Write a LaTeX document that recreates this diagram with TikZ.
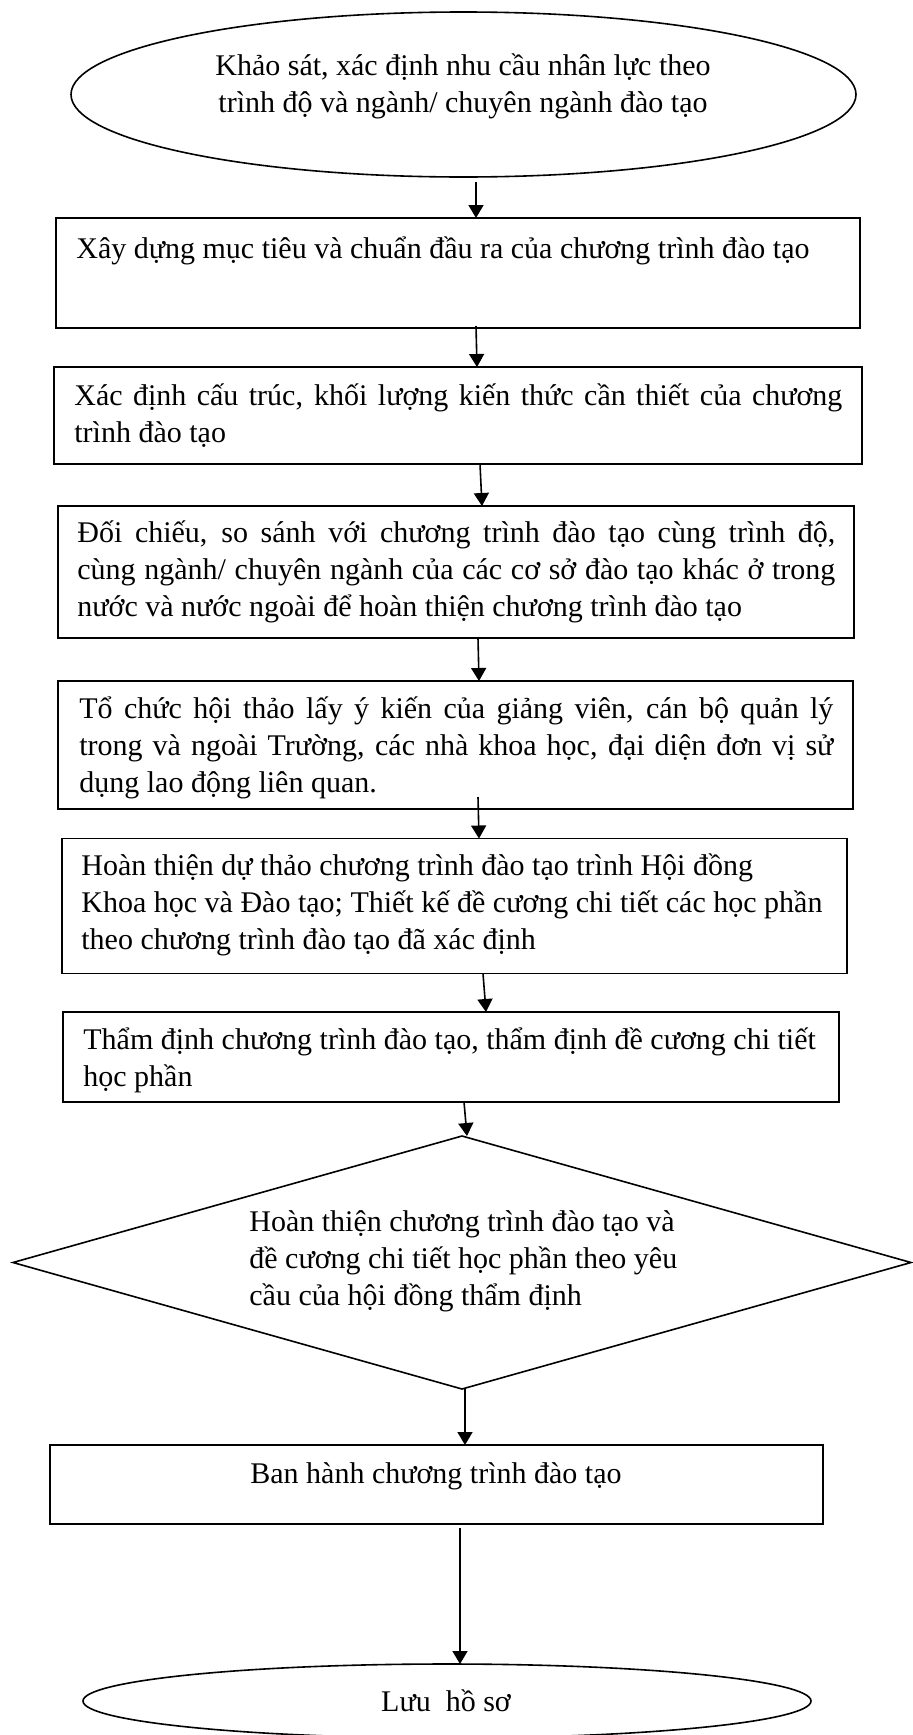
\documentclass[tikz,border=0pt]{standalone}
\usepackage{fontspec}
\setmainfont{Liberation Serif}
\usetikzlibrary{shapes.geometric,arrows.meta,calc}
\tikzset{
  shp/.style={draw, line width=0.8pt, inner sep=0pt, outer sep=0pt},
  boxnode/.style={shp, rectangle},
  ellnode/.style={shp, ellipse},
  dianode/.style={shp, diamond},
  txt/.style={inner sep=0pt, font=\fontsize{15}{18.5}\selectfont},
  arr/.style={-{Triangle[width=7.5pt,length=6.5pt]}, line width=0.8pt},
}
\begin{document}
\begin{tikzpicture}[x=0.5pt,y=-0.5pt]
\useasboundingbox (0,0) rectangle (912,1735);
% shapes
\node[ellnode, minimum width=392.5pt, minimum height=82.5pt] (e1) at (463.5,94.5) {};
\node[boxnode, minimum width=402pt, minimum height=55pt] (b1) at (458,273) {};
\node[boxnode, minimum width=404pt, minimum height=48.5pt] (b2) at (458,415.5) {};
\node[boxnode, minimum width=398pt, minimum height=66pt] (b3) at (456,572) {};
\node[boxnode, minimum width=397.5pt, minimum height=64pt] (b4) at (455.5,745) {};
\node[boxnode, minimum width=392.5pt, minimum height=67.5pt] (b5) at (454.5,906) {};
\node[boxnode, minimum width=388pt, minimum height=45pt] (b6) at (451,1057) {};
\node[dianode, minimum width=449pt, minimum height=126.5pt] (d) at (462,1262.5) {};
\node[boxnode, minimum width=386.5pt, minimum height=39.5pt] (b7) at (436.5,1484.5) {};
\node[ellnode, minimum width=364pt, minimum height=37pt] (e2) at (447,1701) {};
% texts
\node[txt, align=center] (t1) at (463,86) {Khảo sát, xác định nhu cầu nhân lực theo\\trình độ và ngành/ chuyên ngành đào tạo};
\node[txt, anchor=west] (t2) at (76,251) {Xây dựng mục tiêu và chuẩn đầu ra của chương trình đào tạo};
\node[txt, anchor=west, text width=384pt, align=justify] (t3) at (74,416) {Xác định cấu trúc, khối lượng kiến thức cần thiết của chương\linebreak trình đào tạo};
\node[txt, anchor=west, text width=379pt, align=justify] (t4) at (77,572) {Đối chiếu, so sánh với chương trình đào tạo cùng trình độ,\linebreak cùng ngành/ chuyên ngành của các cơ sở đào tạo khác ở trong\linebreak nước và nước ngoài để hoàn thiện chương trình đào tạo};
\node[txt, anchor=west, text width=377pt, align=justify] (t5) at (79,748) {Tổ chức hội thảo lấy ý kiến của giảng viên, cán bộ quản lý\linebreak trong và ngoài Trường, các nhà khoa học, đại diện đơn vị sử\linebreak dụng lao động liên quan.};
\node[txt, anchor=west, align=left] (t6) at (81,905) {Hoàn thiện dự thảo chương trình đào tạo trình Hội đồng\\Khoa học và Đào tạo; Thiết kế đề cương chi tiết các học phần\\theo chương trình đào tạo đã xác định};
\node[txt, anchor=west, align=left] (t7) at (83,1060) {Thẩm định chương trình đào tạo, thẩm định đề cương chi tiết\\học phần};
\node[txt, anchor=west, align=left] (t8) at (249,1261) {Hoàn thiện chương trình đào tạo và\\đề cương chi tiết học phần theo yêu\\cầu của hội đồng thẩm định};
\node[txt] (t9) at (436,1476) {Ban hành chương trình đào tạo};
\node[txt] (t10) at (446,1701) {Lưu\ \ hồ sơ};
% connectors
\draw[arr] ($(e1.south)+(12.5,5)$) -- ($(b1.north)+(18,0)$);
\draw[arr] ($(b1.south)+(18,-2)$) -- ($(b2.north)+(19,0)$);
\draw[arr] ($(b2.south)+(22,0)$) -- ($(b3.north)+(26,0)$);
\draw[arr] ($(b3.south)+(22,0)$) -- ($(b4.north)+(23.5,0)$);
\draw[arr] ($(b4.south)+(22.5,-12)$) -- ($(b5.north)+(24.5,0)$);
\draw[arr] ($(b5.south)+(28.5,0)$) -- ($(b6.north)+(35,0)$);
\draw[arr] ($(b6.south)+(13,0)$) -- ($(d.north)+(5,0)$);
\draw[arr] ($(d.south)+(3,0)$) -- ($(b7.north)+(28.5,0)$);
\draw[arr] ($(b7.south)+(23.5,4)$) -- ($(e2.north)+(13,0)$);
\end{tikzpicture}
\end{document}
